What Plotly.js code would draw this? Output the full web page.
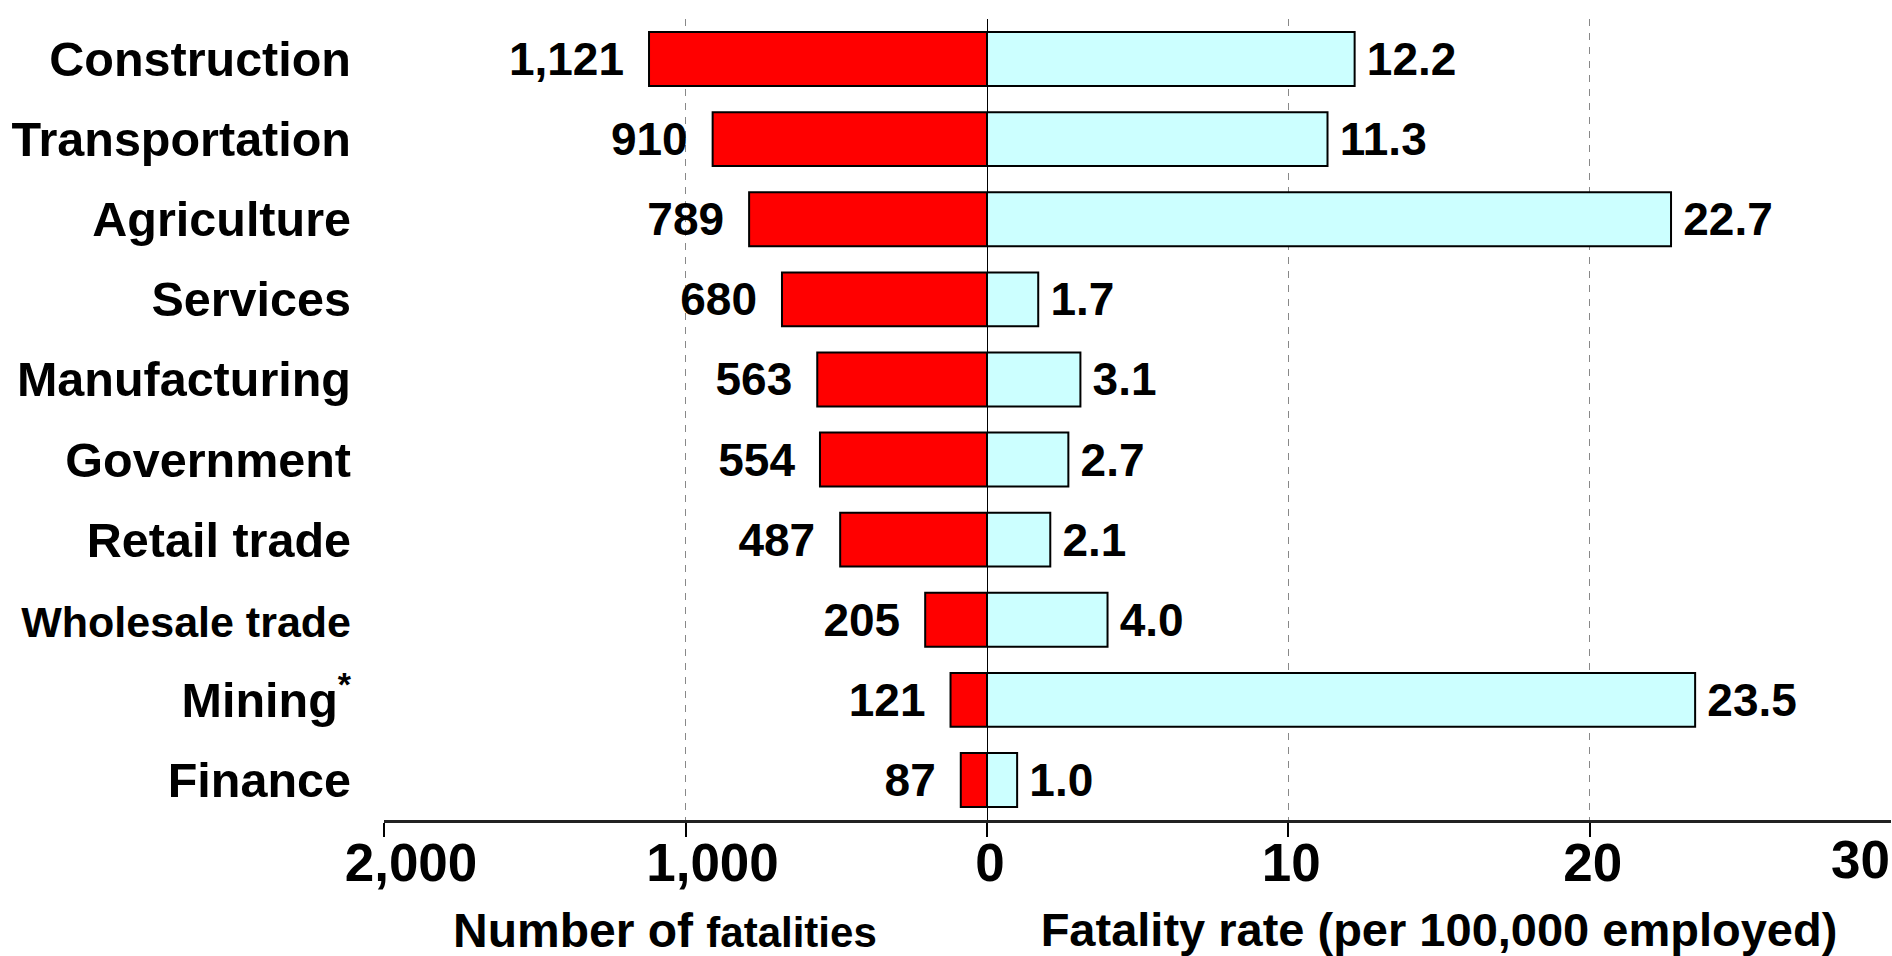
<!DOCTYPE html>
<html>
<head>
<meta charset="utf-8">
<script src="https://cdn.plot.ly/plotly-3.0.1.min.js"></script>
<style>
html, body { margin: 0; padding: 0; background: #ffffff; }
#chart { width: 1892px; height: 956px; }
</style>
</head>
<body>
<div id="chart"></div>
<script>
const categories = ["Construction", "Transportation", "Agriculture", "Services", "Manufacturing",
  "Government", "Retail trade", "Wholesale trade", "Mining<sup>*</sup>", "Finance"];
const fatalities = [1121, 910, 789, 680, 563, 554, 487, 205, 121, 87];
const fatalityRate = [12.2, 11.3, 22.7, 1.7, 3.1, 2.7, 2.1, 4.0, 23.5, 1.0];

const leftTickVals = [2000, 1000];
const leftTickText = ["2,000", "1,000"];
const rightTickVals = [0, 10, 20];
const rightTickText = ["0", "10", "20"];
const edgeTickVals = [30];
const edgeTickText = ["30"];

const FONT = "Liberation Sans, Arial, Helvetica, sans-serif";
const NB = "\u00a0";
const catText = categories.map(c => c === "Wholesale trade"
  ? "<span style='font-size:43px'>" + c + "</span>" : c);

const traces = [
  {
    type: "bar", orientation: "h",
    y: categories, x: fatalities,
    xaxis: "x", yaxis: "y",
    marker: { color: "#FF0000", line: { color: "#000000", width: 2 } },
    texttemplate: "%{x:,}\u2009" + NB, textposition: "outside", cliponaxis: false,
    constraintext: "none",
    textfont: { family: FONT, size: 46, color: "#000000", weight: "bold" },
    hoverinfo: "skip", showlegend: false
  },
  {
    type: "bar", orientation: "h",
    y: categories, x: fatalityRate,
    xaxis: "x2", yaxis: "y",
    marker: { color: "#CCFFFF", line: { color: "#000000", width: 2 } },
    texttemplate: "\u2009%{x:.1f}", textposition: "outside", cliponaxis: false,
    constraintext: "none",
    textfont: { family: FONT, size: 46, color: "#000000", weight: "bold" },
    hoverinfo: "skip", showlegend: false
  },
  {
    type: "scatter", mode: "none", x: [30], y: [categories[0]],
    xaxis: "x3", yaxis: "y", hoverinfo: "skip", showlegend: false
  }
];

const split = 603 / 1507;
const tickFont = { family: FONT, size: 53, color: "#000000", weight: "bold" };

const layout = {
  width: 1892, height: 956,
  margin: { l: 384, r: 1, t: 19, b: 136, pad: 0 },
  paper_bgcolor: "#ffffff", plot_bgcolor: "#ffffff",
  font: { family: FONT, color: "#000000", weight: "bold" },
  bargap: 0.327,
  xaxis: {
    domain: [0, split], range: [2000, 0], anchor: "y",
    tickvals: leftTickVals, ticktext: leftTickText,
    tickfont: tickFont, ticklabelstandoff: -19, ticklabelshift: -27,
    ticks: "outside", ticklen: 14, tickwidth: 2, tickcolor: "#000000",
    showline: true, linecolor: "#222222", linewidth: 2.5,
    showgrid: true, gridcolor: "#888888", gridwidth: 1.5, griddash: "7px,7px",
    zeroline: false
  },
  xaxis2: {
    domain: [split, 1], range: [0, 30], anchor: "y",
    tickvals: rightTickVals, ticktext: rightTickText,
    tickfont: tickFont, ticklabelstandoff: -19, ticklabelshift: 3,
    ticks: "outside", ticklen: 14, tickwidth: 2, tickcolor: "#000000",
    showline: true, linecolor: "#222222", linewidth: 2.5,
    showgrid: true, gridcolor: "#888888", gridwidth: 1.5, griddash: "7px,7px",
    zeroline: false,
    title: {
      text: "Fatality rate (per 100,000 employed)",
      font: { family: FONT, size: 47, color: "#000000", weight: "bold" },
      standoff: 41
    }
  },
  xaxis3: {
    overlaying: "x2", range: [0, 30], anchor: "y", side: "bottom",
    tickvals: edgeTickVals, ticktext: edgeTickText,
    tickfont: tickFont, ticklabelstandoff: -7,
    ticks: "outside", ticklen: 14, tickwidth: 2, tickcolor: "rgba(0,0,0,0)",
    ticklabelposition: "outside left",
    showline: false, showgrid: false, zeroline: false
  },
  yaxis: {
    type: "category", autorange: "reversed",
    categoryorder: "array", categoryarray: categories,
    tickvals: categories, ticktext: catText,
    tickfont: { family: FONT, size: 48.5, color: "#000000", weight: "bold" },
    ticks: "", ticklabelstandoff: 32,
    showline: false, showgrid: false, zeroline: false
  },
  annotations: [
    {
      text: "Number of <span style='font-size:42px'>fatalities</span>",
      xref: "paper", yref: "paper", x: 0.1865, y: -0.1373,
      xanchor: "center", yanchor: "middle", showarrow: false,
      height: 50, valign: "middle", borderpad: 0,
      font: { family: FONT, size: 48, color: "#000000", weight: "bold" }
    }
  ],
  shapes: [
    { type: "line", xref: "x2", yref: "paper", x0: 0, x1: 0, y0: 0, y1: 1,
      line: { color: "#000000", width: 2 }, layer: "above" }
  ]
};

Plotly.newPlot("chart", traces, layout, { staticPlot: true, displayModeBar: false });
</script>
</body>
</html>
